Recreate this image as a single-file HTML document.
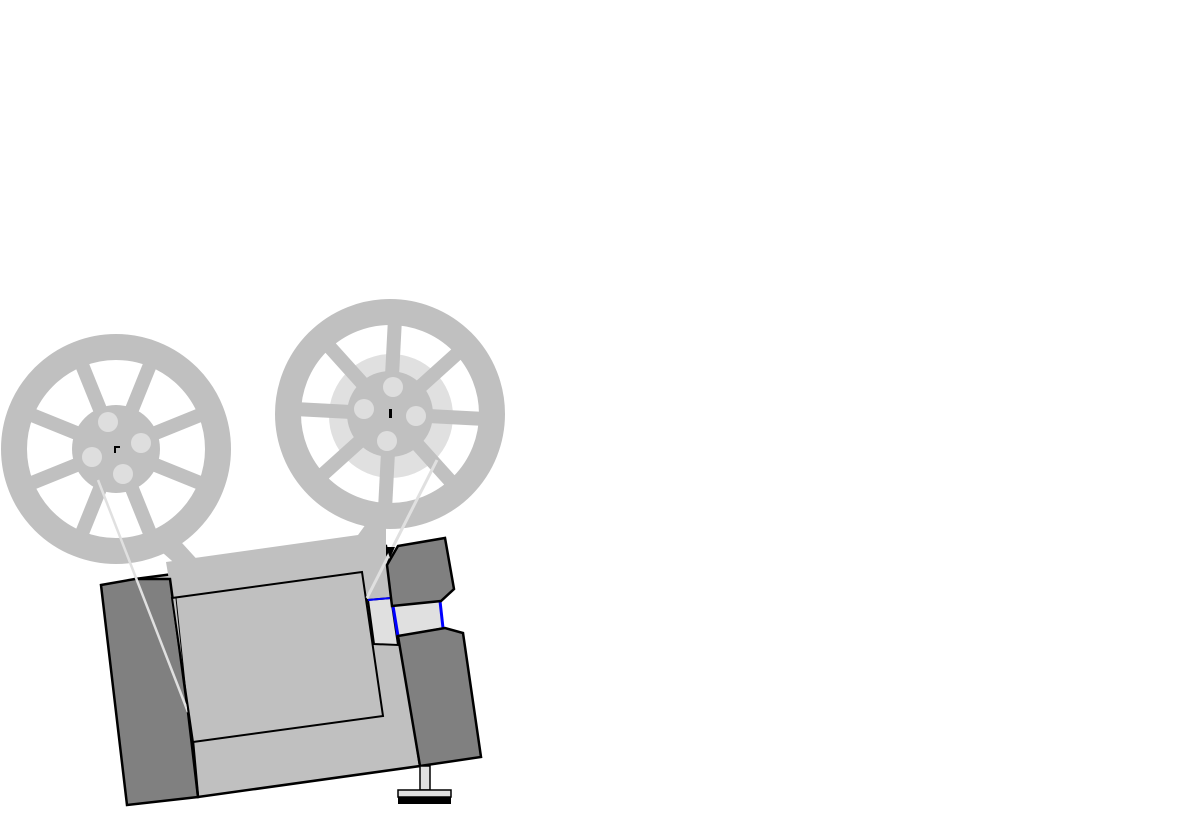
<!DOCTYPE html>
<html><head><meta charset="utf-8"><style>html,body{margin:0;padding:0;background:#fff;}svg{display:block}</style></head>
<body>
<svg width="1200" height="814" viewBox="0 0 1200 814" xmlns="http://www.w3.org/2000/svg">
<!-- left reel -->
<g transform="translate(116,449)">
  <circle r="102" fill="none" stroke="#c0c0c0" stroke-width="26"/>
  <g fill="#c0c0c0">
    <rect x="-7" y="-100" width="14" height="100" transform="rotate(22)"/>
    <rect x="-7" y="-100" width="14" height="100" transform="rotate(-22)"/>
    <rect x="-7" y="-100" width="14" height="100" transform="rotate(68)"/>
    <rect x="-7" y="-100" width="14" height="100" transform="rotate(-68)"/>
    <rect x="-7" y="-100" width="14" height="100" transform="rotate(112)"/>
    <rect x="-7" y="-100" width="14" height="100" transform="rotate(-112)"/>
    <rect x="-7" y="-100" width="14" height="100" transform="rotate(158)"/>
    <rect x="-7" y="-100" width="14" height="100" transform="rotate(-158)"/>
  </g>
  <circle r="44" fill="#c0c0c0"/>
  <g fill="#dedede">
    <circle cx="-8" cy="-27" r="10"/><circle cx="25" cy="-6" r="10"/>
    <circle cx="-24" cy="8" r="10"/><circle cx="7" cy="25" r="10"/>
  </g>
  <path d="M-2 -3 h6 v2 h-4 v5 h-2z" fill="#000"/>
</g>
<!-- right reel -->
<g transform="translate(390,414)">
  <circle r="102" fill="none" stroke="#c0c0c0" stroke-width="26"/>
  <circle cx="1" cy="2" r="62" fill="#e0e0e0"/>
  <g fill="#c0c0c0">
    <rect x="-7" y="-100" width="14" height="100" transform="rotate(3)"/>
    <rect x="-7" y="-100" width="14" height="100" transform="rotate(48)"/>
    <rect x="-7" y="-100" width="14" height="100" transform="rotate(93)"/>
    <rect x="-7" y="-100" width="14" height="100" transform="rotate(138)"/>
    <rect x="-7" y="-100" width="14" height="100" transform="rotate(183)"/>
    <rect x="-7" y="-100" width="14" height="100" transform="rotate(228)"/>
    <rect x="-7" y="-100" width="14" height="100" transform="rotate(273)"/>
    <rect x="-7" y="-100" width="14" height="100" transform="rotate(318)"/>
  </g>
  <circle r="43" fill="#c0c0c0"/>
  <g fill="#dedede">
    <circle cx="3" cy="-27" r="10"/><circle cx="-26" cy="-5" r="10"/>
    <circle cx="26" cy="2" r="10"/><circle cx="-3" cy="27" r="10"/>
  </g>
  <rect x="-1" y="-5" width="3" height="9" fill="#000"/>
</g>
<!-- arm from left reel -->
<polygon points="146,538 172,532 203,566 180,568" fill="#c0c0c0"/>
<!-- body -->
<polygon points="135,579 386,546 420,766 198,797" fill="#c0c0c0" stroke="#000" stroke-width="2.5"/>
<!-- top plate -->
<polygon points="166,562 358,535 366,524 386,527 386,600 368,600 362,572 172,598" fill="#c0c0c0"/>
<!-- left dark panel -->
<polygon points="101,585 135,579 170,579 188,712 198,797 127,805" fill="#808080" stroke="#000" stroke-width="2.5"/>
<line x1="98" y1="480" x2="188" y2="712" stroke="#e0e0e0" stroke-width="2.5"/>
<!-- front panel -->
<polygon points="172,598 362,572 383,716 193,742" fill="#c0c0c0" stroke="#000" stroke-width="2"/>
<line x1="193" y1="742" x2="198" y2="797" stroke="#000" stroke-width="2.5"/>
<line x1="176" y1="598" x2="188" y2="712" stroke="#000" stroke-width="1"/>
<!-- lens small -->
<polygon points="368,600 391,598 398,645 374,644" fill="#e0e0e0" stroke="#000" stroke-width="2"/>
<line x1="368" y1="600" x2="391" y2="598" stroke="#00f" stroke-width="2"/>
<line x1="437" y1="460" x2="367" y2="598" stroke="#e0e0e0" stroke-width="3"/>
<polygon points="386,547 395,547 390,558" fill="#000"/>
<!-- right housing -->
<polygon points="393,606 440,601 443,628 398,636" fill="#e0e0e0" stroke="#000" stroke-width="1.5"/>
<line x1="393" y1="606" x2="398" y2="636" stroke="#00f" stroke-width="3"/>
<line x1="440" y1="601" x2="443" y2="628" stroke="#00f" stroke-width="3"/>
<polygon points="398,546 445,538 454,589 441,601 392,606 387,565" fill="#808080" stroke="#000" stroke-width="2.5"/>
<polygon points="398,636 445,628 463,633 481,757 420,766" fill="#808080" stroke="#000" stroke-width="2.5"/>
<!-- foot -->
<rect x="420" y="766" width="10" height="24" fill="#e0e0e0" stroke="#000" stroke-width="1.5"/>
<rect x="398" y="790" width="53" height="7" fill="#e0e0e0" stroke="#000" stroke-width="1.5"/>
<rect x="398" y="797" width="53" height="7" fill="#000"/>
</svg>
</body></html>
